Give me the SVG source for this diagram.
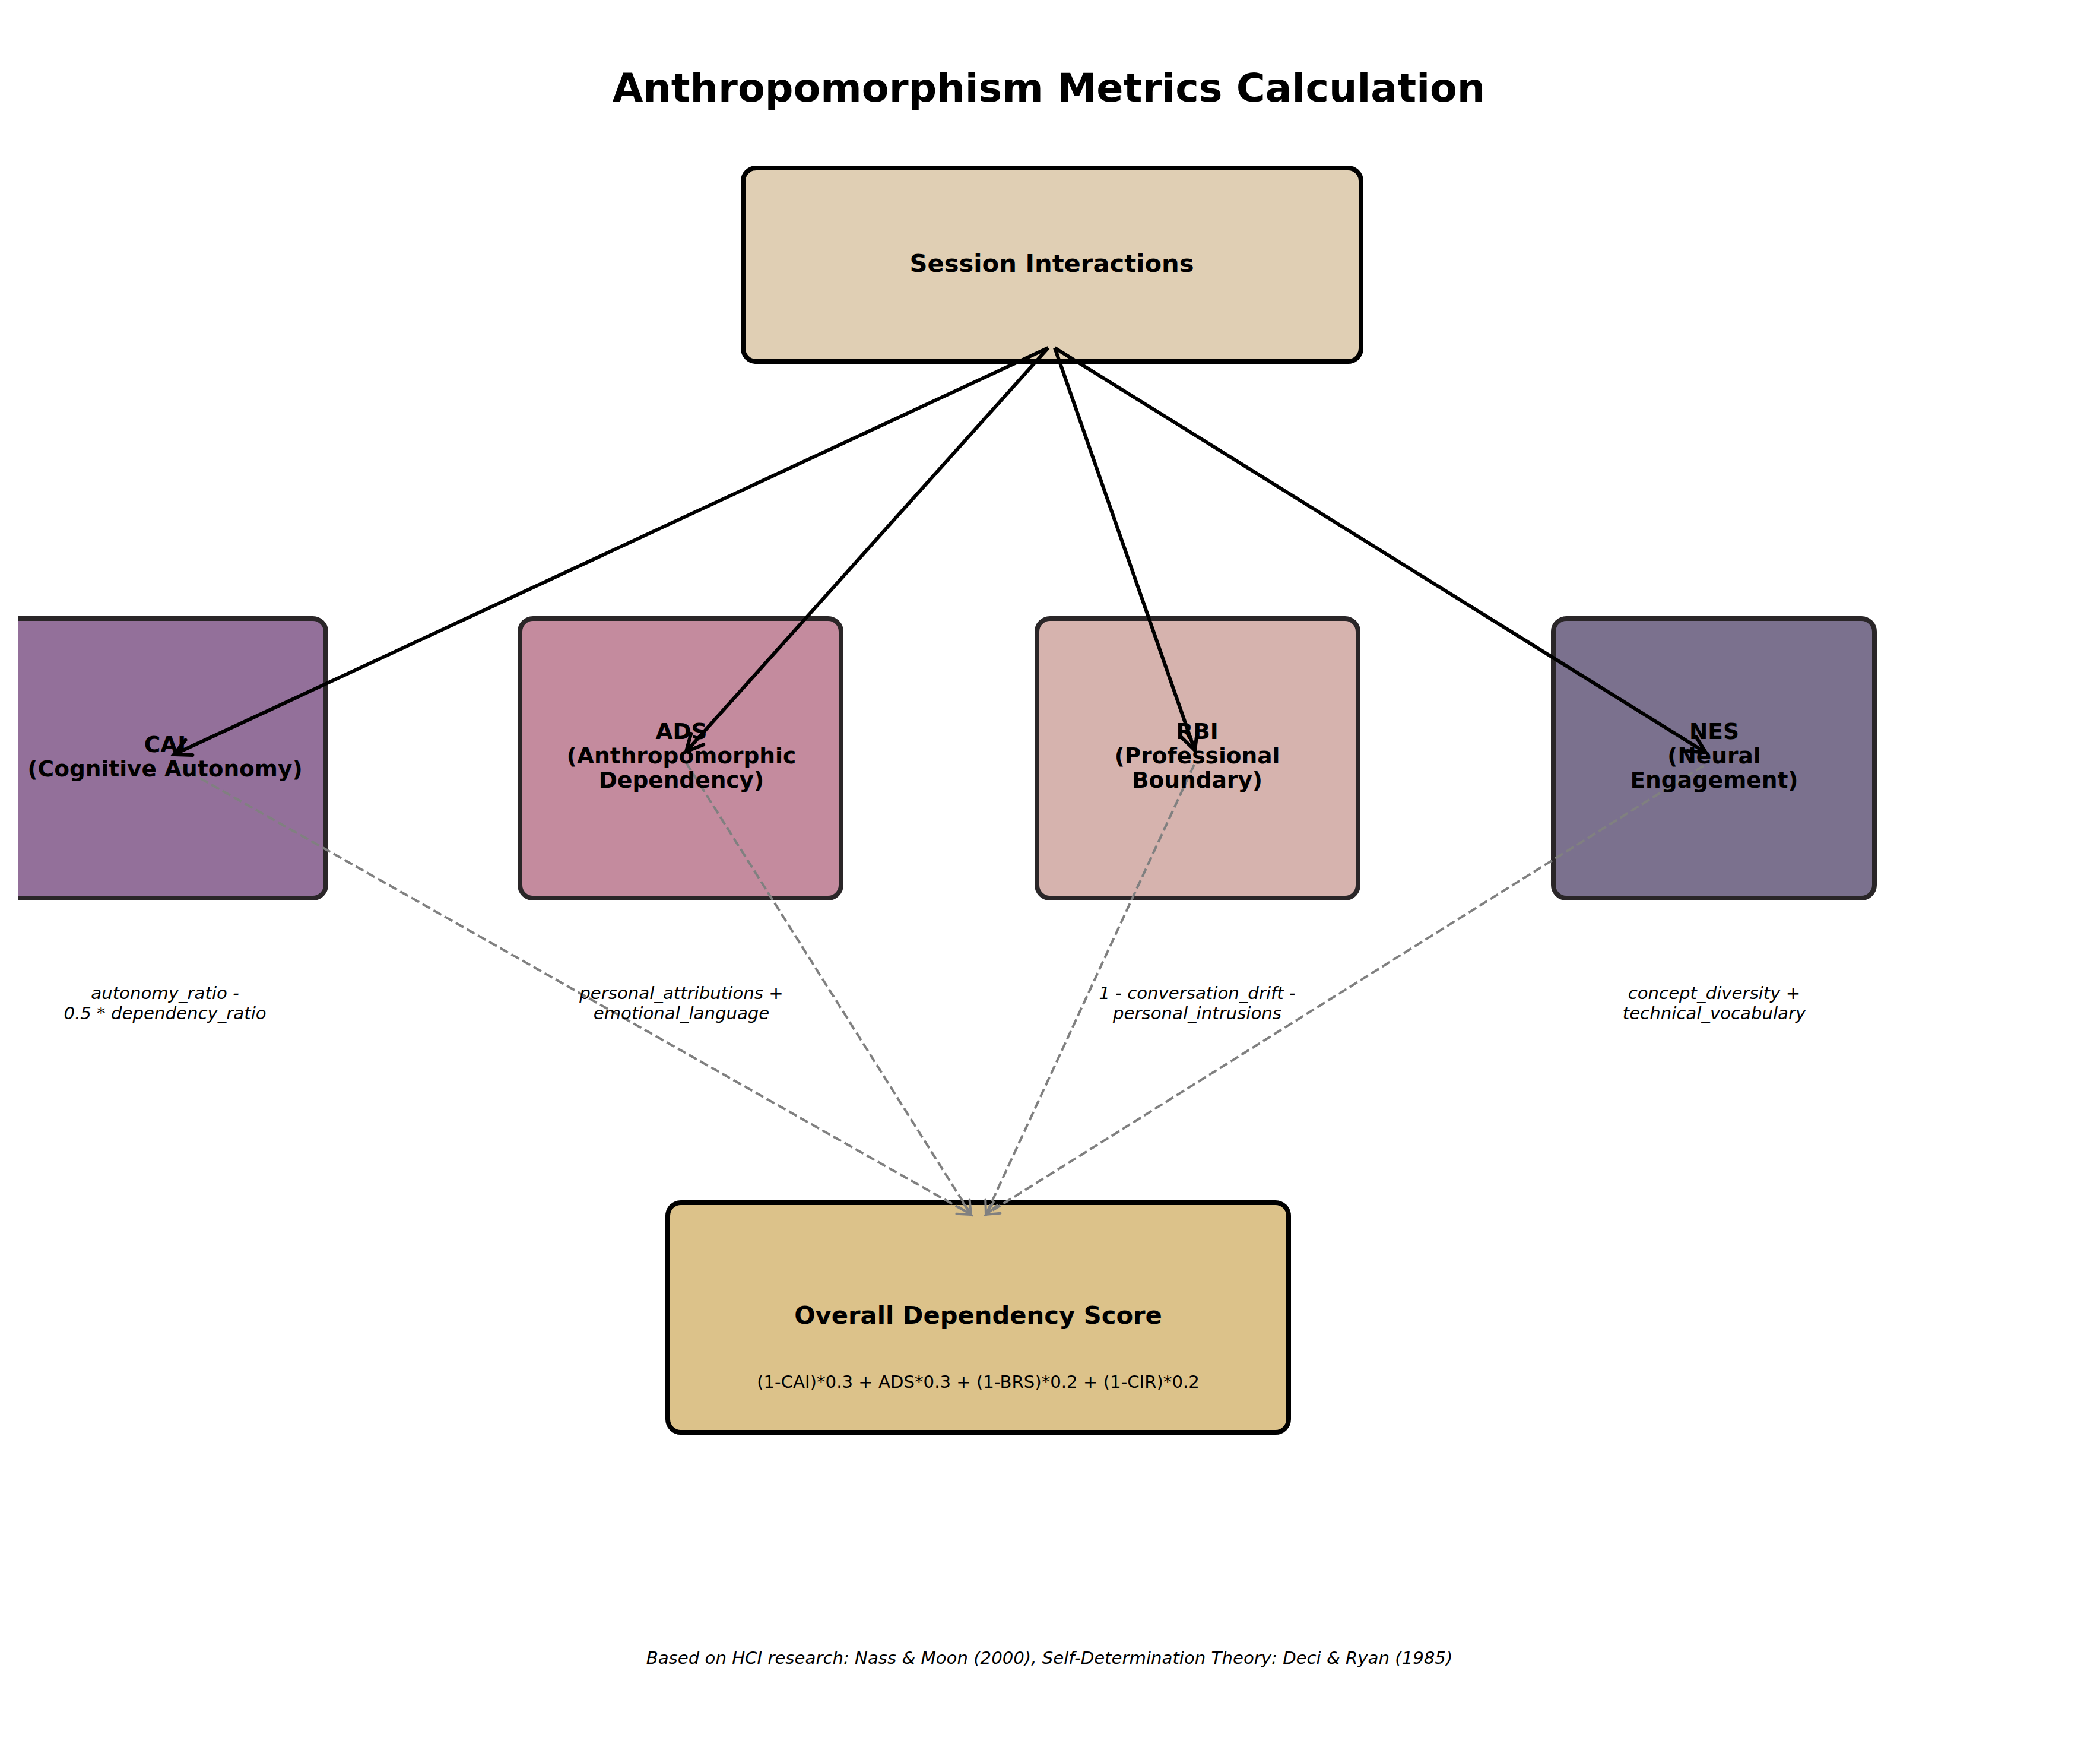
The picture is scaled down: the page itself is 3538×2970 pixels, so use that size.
<svg xmlns="http://www.w3.org/2000/svg" width="3538" height="2970" viewBox="0 0 3538 2970">
<style>
text{font-family:"DejaVu Sans","Liberation Sans",sans-serif;fill:#000;text-anchor:middle}
.title{font-size:66.7px;font-weight:bold}
.lbl{font-size:41.7px;font-weight:bold}
.mlbl{font-size:37.5px;font-weight:bold}
.small{font-size:29.2px}
.it{font-size:29.2px;font-style:italic}
.box{stroke:#000;stroke-width:8}
.mbox{stroke:#2a2628;stroke-width:8}
.solid{stroke:#000;stroke-width:6;fill:none;marker-end:url(#ah)}
.dash{stroke:#808080;stroke-width:4;stroke-dasharray:15 6.5;fill:none;marker-end:url(#ahg)}
</style>
<defs>
<clipPath id="axes"><rect x="30" y="0" width="3508" height="2970"/></clipPath>
<marker id="ah" markerUnits="userSpaceOnUse" markerWidth="60" markerHeight="60" viewBox="-40 -30 60 60" refX="0" refY="0" orient="auto" overflow="visible">
<path d="M-28,-14 L0,0 L-28,14" fill="none" stroke="#000" stroke-width="6" stroke-linecap="round" stroke-linejoin="miter"/>
</marker>
<marker id="ahg" markerUnits="userSpaceOnUse" markerWidth="60" markerHeight="60" viewBox="-40 -30 60 60" refX="0" refY="0" orient="auto" overflow="visible">
<path d="M-22,-11 L0,0 L-22,11" fill="none" stroke="#808080" stroke-width="4" stroke-linecap="round"/>
</marker>
</defs>
<rect x="0" y="0" width="3538" height="2970" fill="#fff"/>
<text class="title" x="1767" y="171">Anthropomorphism Metrics Calculation</text>

<g id="session">
<rect class="box" x="1252" y="283" width="1041" height="326" rx="22" fill="#E0CFB4"/>
<text class="lbl" x="1772" y="458">Session Interactions</text>
</g>

<g id="cai" clip-path="url(#axes)">
<rect class="mbox" x="8" y="1042" width="541" height="471" rx="22" fill="#93709A"/>
</g>
<g id="ads">
<rect class="mbox" x="876" y="1042" width="541" height="471" rx="22" fill="#C48B9E"/>
</g>
<g id="rbi">
<rect class="mbox" x="1747" y="1042" width="541" height="471" rx="22" fill="#D6B3AE"/>
</g>
<g id="nes">
<rect class="mbox" x="2617" y="1042" width="541" height="471" rx="22" fill="#7B718E"/>
</g>

<g id="overall">
<rect class="box" x="1125" y="2026" width="1046" height="387" rx="22" fill="#DCC28A"/>
<text class="lbl" x="1648" y="2230">Overall Dependency Score</text>
<text class="small" x="1648" y="2338">(1-CAI)*0.3 + ADS*0.3 + (1-BRS)*0.2 + (1-CIR)*0.2</text>
</g>

<g id="connectors">
<line class="solid" x1="1766" y1="586" x2="293" y2="1271"/>
<line class="solid" x1="1766" y1="586" x2="1156" y2="1266"/>
<line class="solid" x1="1777" y1="586" x2="2013" y2="1264"/>
<line class="solid" x1="1777" y1="586" x2="2874" y2="1268"/>
<line class="dash" x1="300" y1="1290" x2="1636" y2="2046"/>
<line class="dash" x1="1156" y1="1285" x2="1636" y2="2046"/>
<line class="dash" x1="2012" y1="1288" x2="1661" y2="2046"/>
<line class="dash" x1="2870" y1="1290" x2="1661" y2="2046"/>
</g>

<g id="cai-label">
<text class="mlbl" x="278" y="1267">CAI</text>
<text class="mlbl" x="278" y="1308">(Cognitive Autonomy)</text>
</g>
<g id="ads-label">
<text class="mlbl" x="1148" y="1245">ADS</text>
<text class="mlbl" x="1148" y="1286">(Anthropomorphic</text>
<text class="mlbl" x="1148" y="1327">Dependency)</text>
</g>
<g id="rbi-label">
<text class="mlbl" x="2017" y="1245">RBI</text>
<text class="mlbl" x="2017" y="1286">(Professional</text>
<text class="mlbl" x="2017" y="1327">Boundary)</text>
</g>
<g id="nes-label">
<text class="mlbl" x="2888" y="1245">NES</text>
<text class="mlbl" x="2888" y="1286">(Neural</text>
<text class="mlbl" x="2888" y="1327">Engagement)</text>
</g>

<g id="formulas">
<text class="it" x="278" y="1683">autonomy_ratio -</text>
<text class="it" x="278" y="1717">0.5 * dependency_ratio</text>
<text class="it" x="1148" y="1683">personal_attributions +</text>
<text class="it" x="1148" y="1717">emotional_language</text>
<text class="it" x="2017" y="1683">1 - conversation_drift -</text>
<text class="it" x="2017" y="1717">personal_intrusions</text>
<text class="it" x="2888" y="1683">concept_diversity +</text>
<text class="it" x="2888" y="1717">technical_vocabulary</text>
</g>

<text class="it" x="1768" y="2803">Based on HCI research: Nass &amp; Moon (2000), Self-Determination Theory: Deci &amp; Ryan (1985)</text>
</svg>
